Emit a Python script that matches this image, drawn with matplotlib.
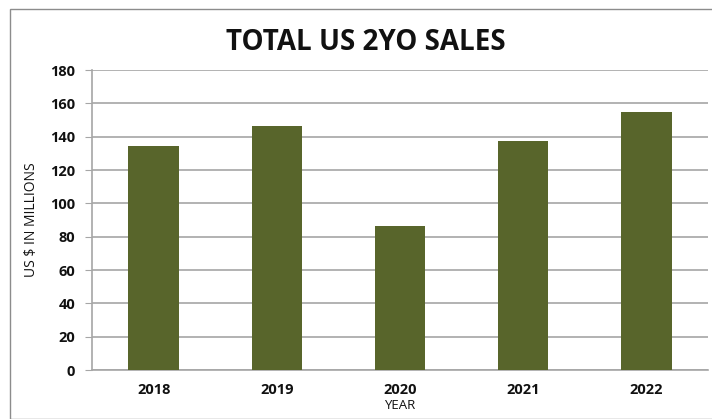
import matplotlib.pyplot as plt
from matplotlib.patches import Rectangle

YEARS = ["2018", "2019", "2020", "2021", "2022"]
SALES = [134.3, 146.3, 86.2, 137.4, 154.7]
Y_TICKS = [0, 20, 40, 60, 80, 100, 120, 140, 160, 180]

BAR = "#58652B"
GRID = "#A6A6A6"
TEXT = "#111111"

plt.rcParams["font.family"] = ["Open Sans", "DejaVu Sans"]

fig = plt.figure(figsize=(7.12, 4.19), dpi=100)
ax = fig.add_axes([92 / 712, 1 - 370 / 419, 616 / 712, 300 / 419])

ax.bar(range(len(YEARS)), SALES, width=0.41, color=BAR, zorder=3)
ax.set_xlim(-0.5, len(YEARS) - 0.5)
ax.set_ylim(0, 180)
ax.set_yticks(Y_TICKS)
ax.set_xticks(range(len(YEARS)))
ax.set_xticklabels(YEARS)
ax.yaxis.grid(True, color=GRID, linewidth=1.2, zorder=0)
ax.tick_params(axis="y", length=5, color=GRID, labelsize=10.5, pad=7)
ax.tick_params(axis="x", length=0, labelsize=10.5, pad=9)
for lab in ax.get_xticklabels() + ax.get_yticklabels():
    lab.set_fontweight("bold")
    lab.set_color(TEXT)
for side in ["top", "right"]:
    ax.spines[side].set_visible(False)
for side in ["left", "bottom"]:
    ax.spines[side].set_color(GRID)
    ax.spines[side].set_linewidth(1.2)

ax.set_ylabel("US $ IN MILLIONS", fontsize=10, color=TEXT, labelpad=8)
ax.set_xlabel("YEAR", fontsize=9.5, color=TEXT, labelpad=2)

fig.text(366 / 712, 1 - 42 / 419, "TOTAL US 2YO SALES", ha="center", va="center",
         fontsize=20, fontweight="bold", color=TEXT)

fig.patches.append(Rectangle((10 / 712, 0), 1.5, 1 - 9 / 419, transform=fig.transFigure,
                             fill=False, edgecolor="#8C8C8C", linewidth=1.0))

fig.savefig("out.png", dpi=100)
